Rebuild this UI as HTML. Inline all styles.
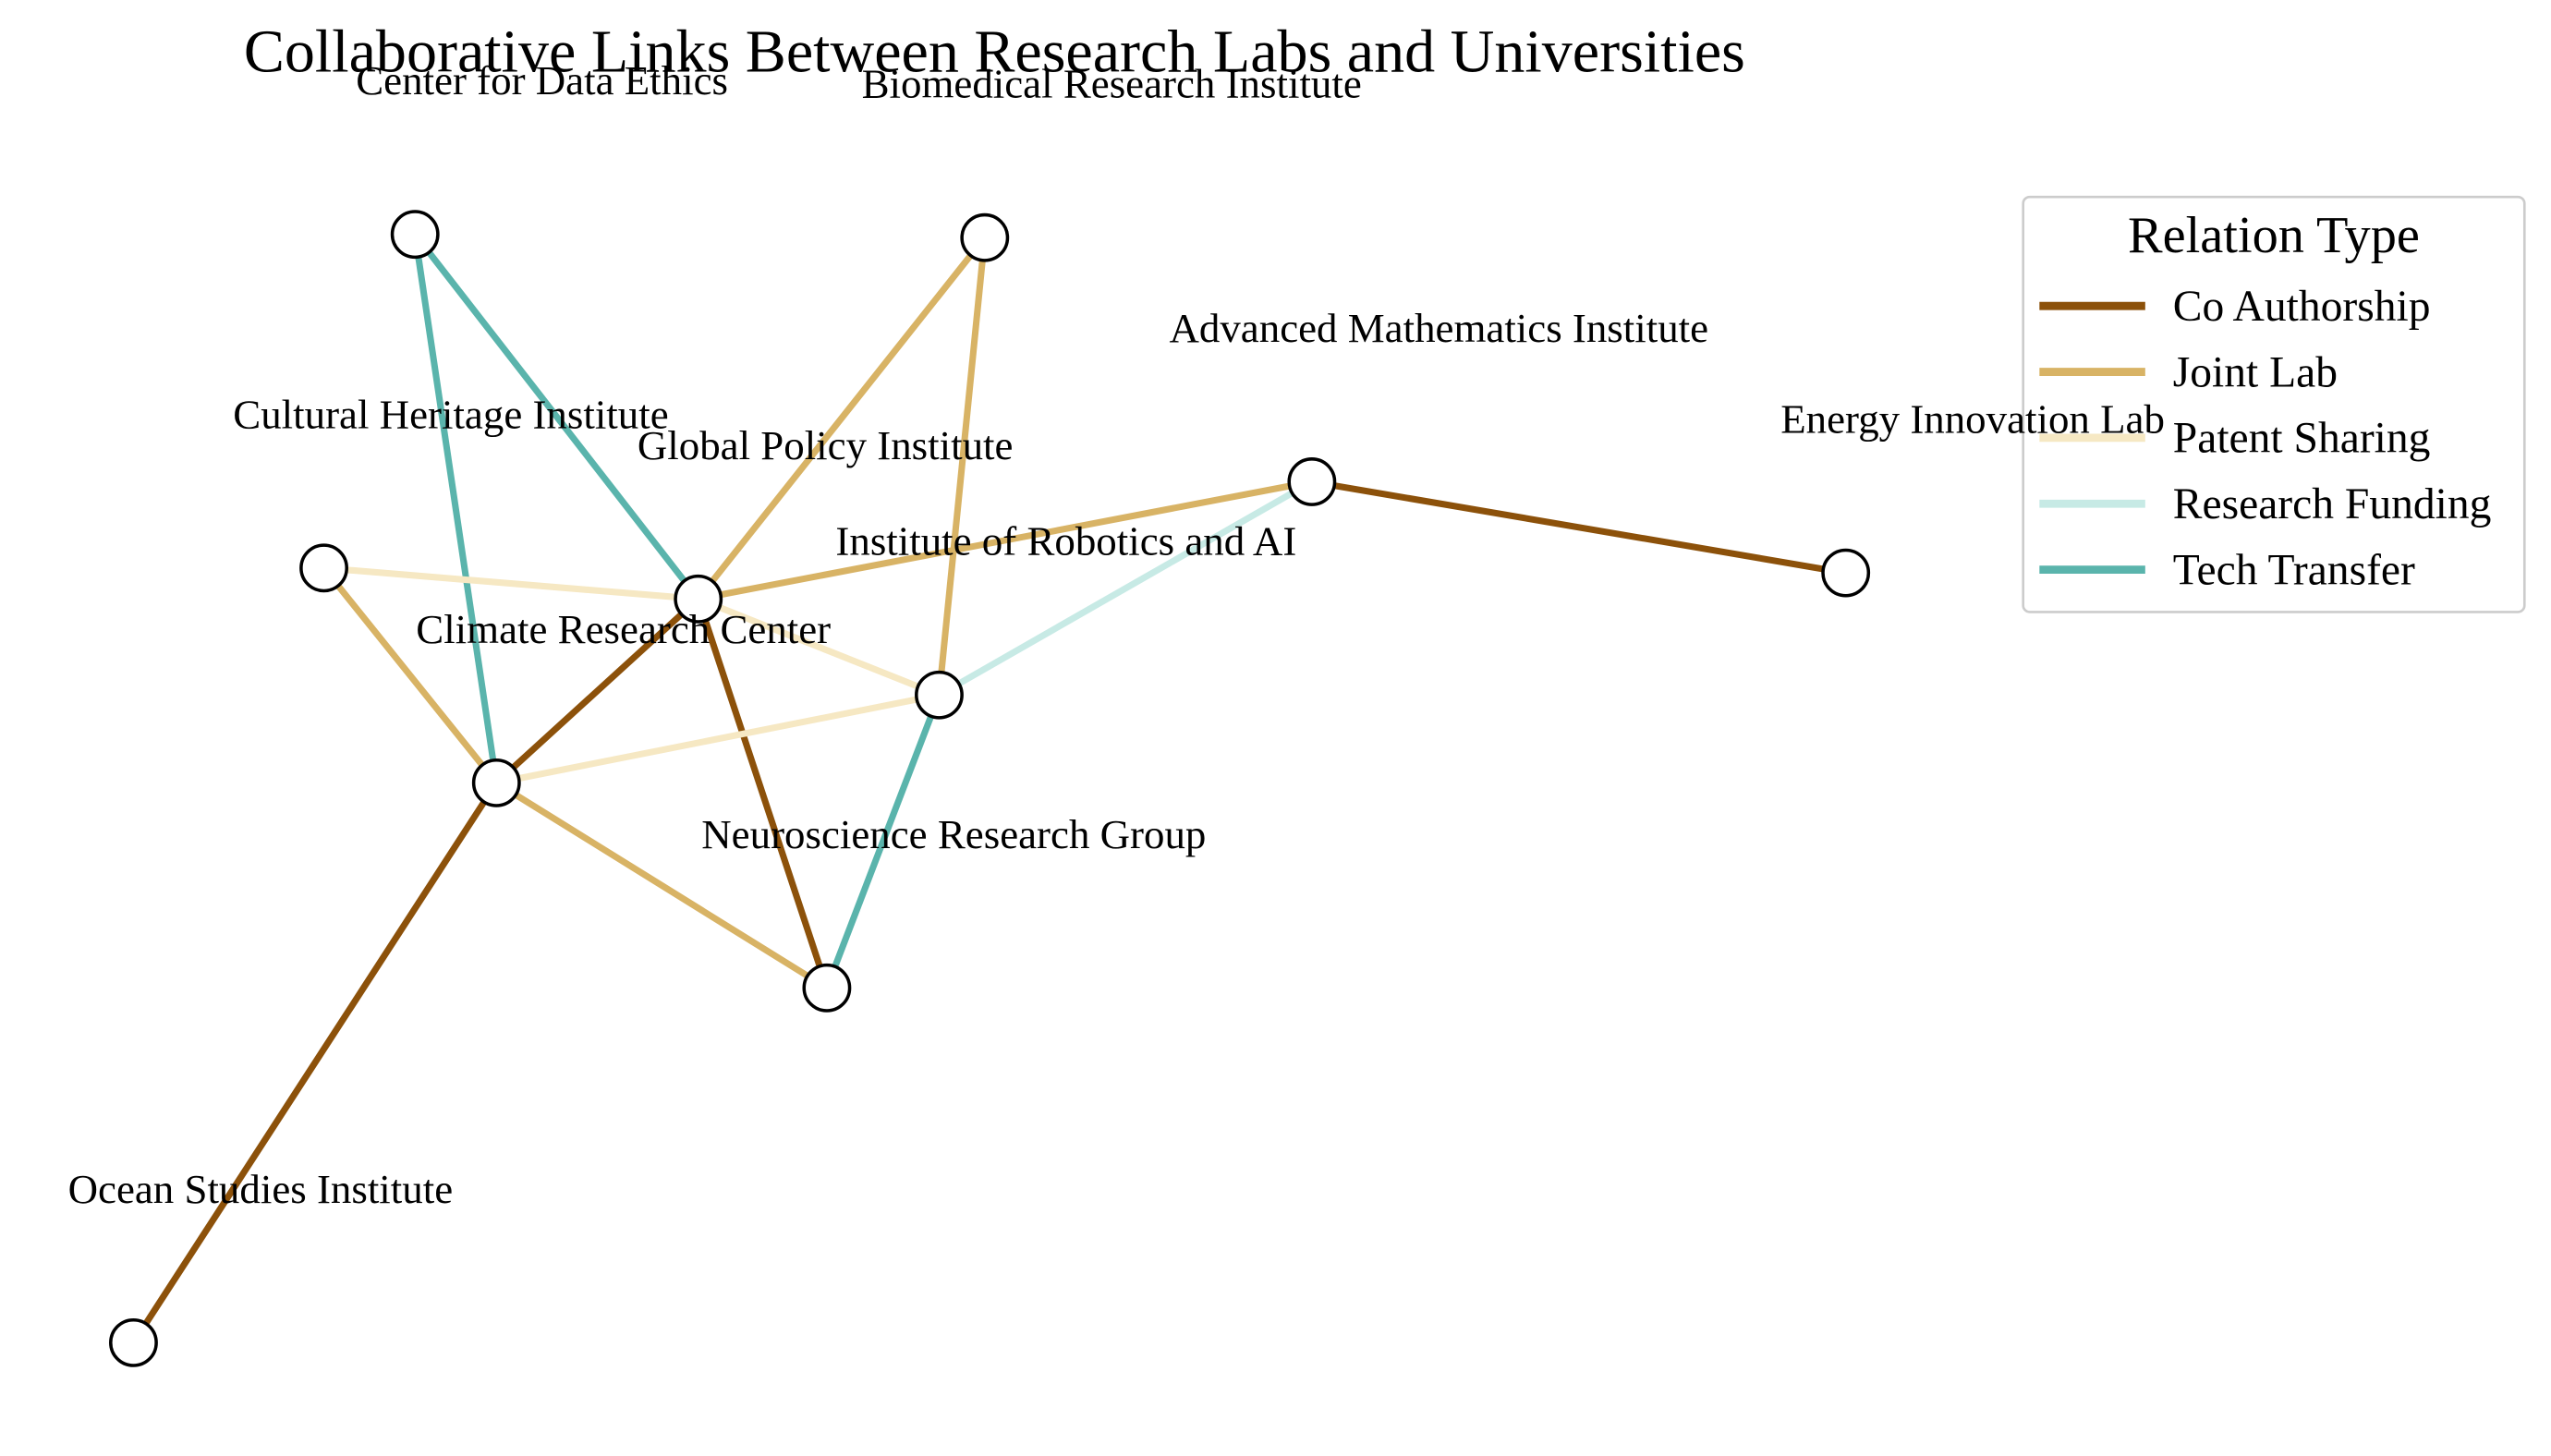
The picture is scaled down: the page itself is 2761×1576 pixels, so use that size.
<!DOCTYPE html>
<html><head><meta charset="utf-8"><style>
html,body{margin:0;padding:0;background:#fff;}
svg{display:block;font-family:"Liberation Serif",serif;}
</style></head><body>
<svg id="chart" width="2761" height="1576" viewBox="0 0 1567.3 894.6" xmlns="http://www.w3.org/2000/svg">
<rect width="1567.3" height="894.6" fill="#fff"/>
<text x="611" y="44" font-size="37.5" text-anchor="middle" fill="#000">Collaborative Links Between Research Labs and Universities</text>
<g id="edges"></g>
<g id="nodes"></g>
<g>
<rect x="1243" y="121" width="308" height="255" rx="4" fill="#fff" stroke="#ccc" stroke-width="1.5"/>
<text x="1397" y="155" font-size="32" text-anchor="middle">Relation Type</text>
<g id="legend-items"></g>
</g>
<g id="labels"></g>
</svg>
<script>
const nodeNames=["Center for Data Ethics","Biomedical Research Institute","Advanced Mathematics Institute","Energy Innovation Lab","Cultural Heritage Institute","Global Policy Institute","Institute of Robotics and AI","Climate Research Center","Neuroscience Research Group","Ocean Studies Institute"];
const nodeX=[255,605,806,1134,199,429,577,305,508,82];
const nodeY=[144,146,296,352,349,368,427,481,607,825];
const relTypes=["Co Authorship","Joint Lab","Patent Sharing","Research Funding","Tech Transfer"];
const relColors=["#8c510a","#d8b365","#f6e8c3","#c7eae5","#5ab4ac"];
const edgeSrc=[0,0,1,1,5,2,2,4,4,5,5,5,7,7,6,7];
const edgeDst=[7,5,5,6,2,3,6,5,7,6,7,8,6,8,8,9];
const edgeType=[4,4,1,1,1,0,3,2,1,2,0,0,2,1,4,0];
const NS="http://www.w3.org/2000/svg";
const eg=document.getElementById('edges');
edgeSrc.forEach((s,i)=>{const d=edgeDst[i];const l=document.createElementNS(NS,'line');
l.setAttribute('x1',nodeX[s]);l.setAttribute('y1',nodeY[s]);l.setAttribute('x2',nodeX[d]);l.setAttribute('y2',nodeY[d]);
l.setAttribute('stroke',relColors[edgeType[i]]);l.setAttribute('stroke-width','4');


eg.appendChild(l);});
const ng=document.getElementById('nodes'),lg=document.getElementById('labels');
nodeNames.forEach((n,i)=>{const c=document.createElementNS(NS,'circle');
c.setAttribute('cx',nodeX[i]);c.setAttribute('cy',nodeY[i]);c.setAttribute('r','14');c.setAttribute('fill','#fff');c.setAttribute('stroke','#000');c.setAttribute('stroke-width','2');


ng.appendChild(c);
const t=document.createElementNS(NS,'text');t.setAttribute('x',nodeX[i]+78);t.setAttribute('y',nodeY[i]-86);t.setAttribute('font-size','25.5');t.setAttribute('text-anchor','middle');t.textContent=n;


lg.appendChild(t);});
const li=document.getElementById('legend-items');
relTypes.forEach((r,i)=>{const y=188+i*40.5;const l=document.createElementNS(NS,'line');
l.setAttribute('x1',1253);l.setAttribute('x2',1318);l.setAttribute('y1',y);l.setAttribute('y2',y);l.setAttribute('stroke',relColors[i]);l.setAttribute('stroke-width','5');


li.appendChild(l);
const t=document.createElementNS(NS,'text');t.setAttribute('x',1335);t.setAttribute('y',y+9);t.setAttribute('font-size','27');t.textContent=r;


li.appendChild(t);});
</script>
</body></html>
